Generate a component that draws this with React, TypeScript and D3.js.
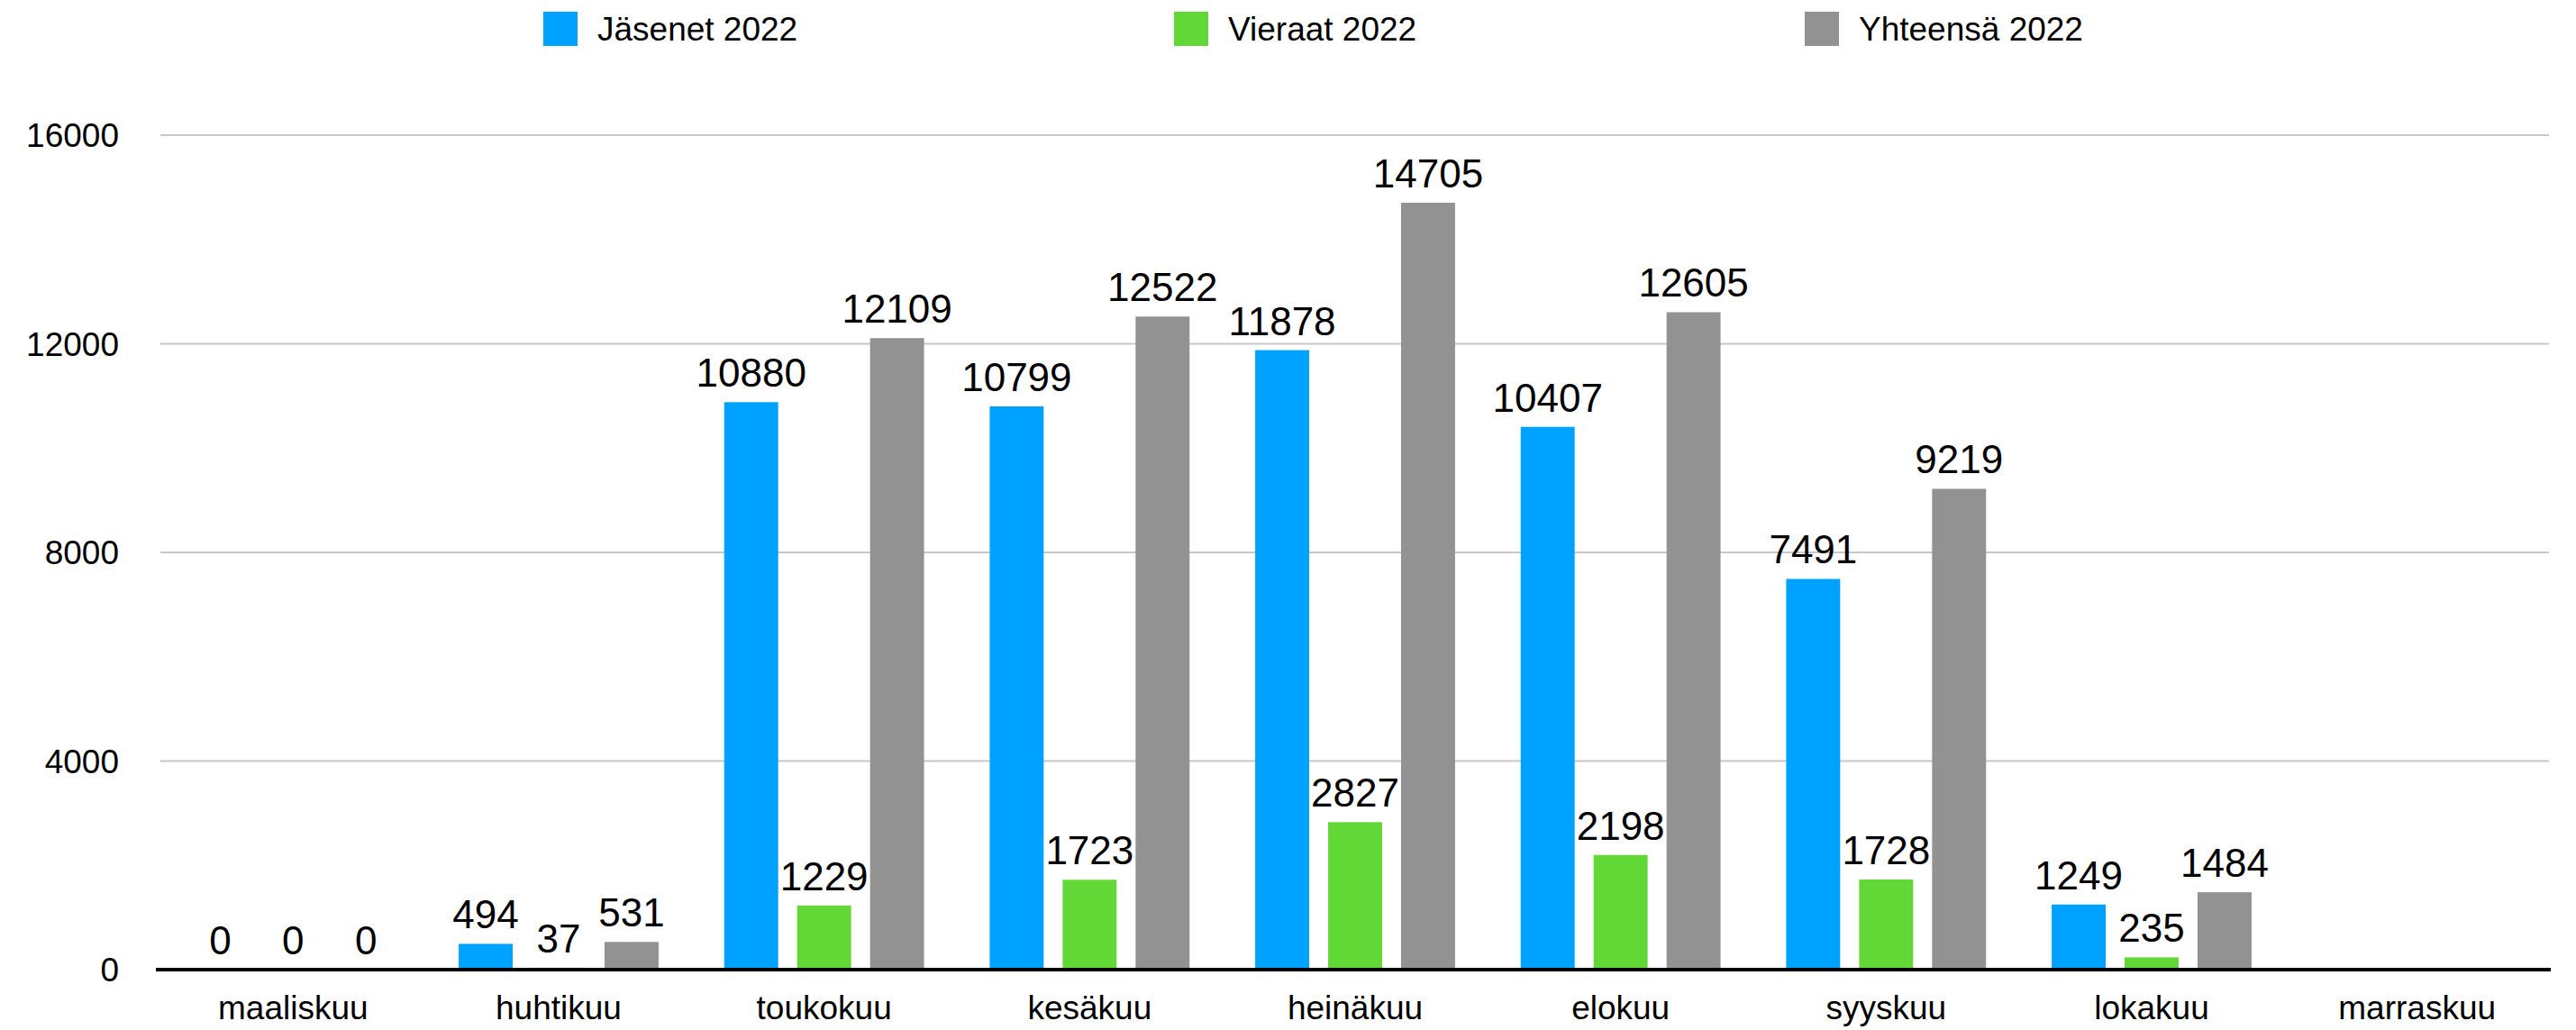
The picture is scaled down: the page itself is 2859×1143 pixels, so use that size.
import React from 'react';
import * as d3 from 'd3';

const months = ['maaliskuu', 'huhtikuu', 'toukokuu', 'kesäkuu', 'heinäkuu', 'elokuu', 'syyskuu', 'lokakuu', 'marraskuu'];
const seriesNames = ['Jäsenet 2022', 'Vieraat 2022', 'Yhteensä 2022'];
const seriesColors = ['#00A2FF', '#61D836', '#929292'];
const jasenet = [0, 494, 10880, 10799, 11878, 10407, 7491, 1249, null];
const vieraat = [0, 37, 1229, 1723, 2827, 2198, 1728, 235, null];
const yhteensa = [0, 531, 12109, 12522, 14705, 12605, 9219, 1484, null];
const yTicks = [0, 4000, 8000, 12000, 16000];

const W = 2859;
const H = 1143;
const FONT = 'Liberation Sans, Arial, Helvetica, sans-serif';

export default function App() {
  const series = [jasenet, vieraat, yhteensa];

  const x0 = d3.scaleBand<string>().domain(months).range([178, 2830]).padding(0);
  const x1 = d3.scaleBand<string>()
    .domain(seriesNames)
    .range([0, x0.bandwidth()])
    .paddingInner(0.26)
    .paddingOuter(0.45);
  const y = d3.scaleLinear().domain([0, 16000]).range([1076, 150]);

  return (
    <div style={{ position: 'fixed', left: 0, top: 0 }}>
      <svg width={W} height={H} style={{ display: 'block', background: '#fff' }} fontFamily={FONT}>
        {/* legend */}
        {seriesNames.map((name, i) => (
          <g key={name} transform={`translate(${603 + i * 700},13)`}>
            <rect width={38} height={38} fill={seriesColors[i]} />
            <text x={60} y={32} fontSize={37} fill="#000">{name}</text>
          </g>
        ))}

        {/* grid */}
        {yTicks.filter(t => t > 0).map(t => (
          <line key={t} x1={178} x2={2829} y1={y(t)} y2={y(t)} stroke="#c8c8c8" strokeWidth={2} />
        ))}
        {yTicks.map(t => (
          <text key={'l' + t} x={132} y={y(t)} dy="0.36em" textAnchor="end" fontSize={37} fill="#000">{t}</text>
        ))}

        {/* bars */}
        {months.map((m, mi) => (
          <g key={m} transform={`translate(${x0(m)},0)`}>
            {series.map((vals, si) => {
              const v = vals[mi];
              if (v === null) return null;
              const bx = x1(seriesNames[si]) as number;
              return (
                <g key={si}>
                  <rect x={bx} y={y(v)} width={x1.bandwidth()} height={y(0) - y(v)} fill={seriesColors[si]} />
                  <text x={bx + x1.bandwidth() / 2} y={y(v) - 17} textAnchor="middle" fontSize={44} fill="#000">{v}</text>
                </g>
              );
            })}
            <text x={x0.bandwidth() / 2} y={1131} textAnchor="middle" fontSize={37} fill="#000">{m}</text>
          </g>
        ))}

        {/* baseline */}
        <line x1={173} x2={2831} y1={y(0)} y2={y(0)} stroke="#000" strokeWidth={4} />
      </svg>
    </div>
  );
}
